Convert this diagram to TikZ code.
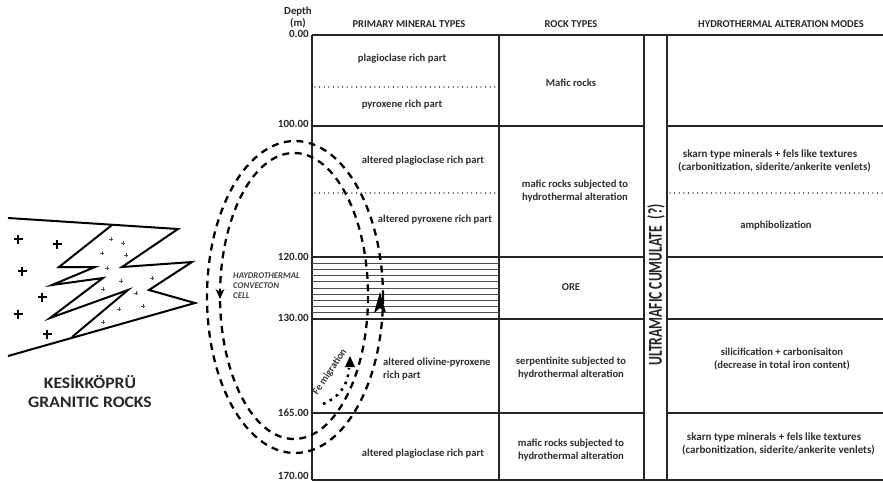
\documentclass[tikz,border=0pt]{standalone}
\usepackage{fontspec}
\setmainfont{Carlito}
\usetikzlibrary{arrows.meta}
\begin{document}
\begin{tikzpicture}[x=1pt,y=-1pt,
  grid/.style={line width=1.3pt, draw=black!85},
  dotline/.style={line width=1.2pt, dash pattern=on 0.01pt off 4.6pt, line cap=round, draw=black!80},
  hatch/.style={line width=0.9pt, draw=black!70},
  lbl/.style={font=\fontsize{10.6}{12.6}\selectfont\bfseries, text=black!82, align=center, inner sep=0pt},
  hdr/.style={font=\fontsize{10.5}{9}\selectfont\bfseries, text=black!85, inner sep=0pt},
  depthlbl/.style={font=\fontsize{11}{9}\selectfont\bfseries, text=black!85, anchor=east, inner sep=0pt},
  flowpath/.style={line width=2.3pt, dash pattern=on 7pt off 5.5pt, draw=black},
  granite/.style={line width=2pt, line join=miter, draw=black},
  bigplus/.style={line width=1.3pt, draw=black},
  smallplus/.style={line width=0.6pt, draw=black!70}]
\useasboundingbox (0,0) rectangle (883,482);

% ---------- column grid ----------
\draw[grid] (312,35) -- (883,35);
\draw[grid] (312,480) -- (883,480);
\draw[grid] (312,35) -- (312,480);
\draw[grid] (499,35) -- (499,480);
\draw[grid] (644,35) -- (644,480);
\draw[grid] (667,35) -- (667,480);
\foreach \yy in {126,257,319,413}{
  \draw[grid] (312,\yy) -- (644,\yy);
  \draw[grid] (667,\yy) -- (883,\yy);
}
% ore hatching
\foreach \k in {1,...,9}{
  \draw[hatch] (312,257+6.2*\k) -- (499,257+6.2*\k);
}
% dotted sub-boundaries
\draw[dotline] (315,87) -- (499,87);
\draw[dotline] (315,193) -- (499,193);
\draw[dotline] (670,193) -- (883,193);

% ---------- headers ----------
\node[hdr, align=center, font=\fontsize{10.8}{12.5}\selectfont\bfseries] (dh) at (298,17.5) {Depth\\(m)};
\node[hdr] (h1) at (409,24) {PRIMARY MINERAL TYPES};
\node[hdr] (h2) at (571,24) {ROCK TYPES};
\node[hdr] (h3) at (781,24) {HYDROTHERMAL ALTERATION MODES};

% ---------- depth scale ----------
\node[depthlbl] (d0)   at (309,34)  {0.00};
\node[depthlbl] (d100) at (309,124) {100.00};
\node[depthlbl] (d120) at (309,257) {120.00};
\node[depthlbl] (d130) at (309,318) {130.00};
\node[depthlbl] (d165) at (309,413) {165.00};
\node[depthlbl] (d170) at (309,475.5) {170.00};

% ---------- primary mineral types ----------
\node[lbl] (p1) at (402,59)  {plagioclase rich part};
\node[lbl] (p2) at (402,105) {pyroxene rich part};
\node[lbl] (p3) at (423,161) {altered plagioclase rich part};
\node[lbl] (p4) at (435,220) {altered pyroxene rich part};
\node[lbl, align=left, anchor=west] (p5) at (383,369) {altered olivine-pyroxene\\rich part};
\node[lbl] (p6) at (423,454) {altered plagioclase rich part};

% ---------- rock types ----------
\node[lbl] (r1) at (571,83)  {Mafic rocks};
\node[lbl] (r2) at (575,191) {mafic rocks subjected to\\hydrothermal alteration};
\node[lbl] (r3) at (571,287) {ORE};
\node[lbl] (r4) at (571,368) {serpentinite subjected to\\hydrothermal alteration};
\node[lbl] (r5) at (571,450) {mafic rocks subjected to\\hydrothermal alteration};

% ---------- cumulate band ----------
\node[font=\fontsize{13.6}{16}\selectfont\bfseries, text=black!85, rotate=90, inner sep=0pt] (um) at (656,285) {\scalebox{1}[1.45]{ULTRAMAFIC CUMULATE\enspace(?)}};

% ---------- alteration modes ----------
\node[lbl, font=\fontsize{11}{12.8}\selectfont\bfseries] (a1) at (770,161) {skarn type minerals + fels like textures\\\hspace*{9pt}(carbonitization, siderite/ankerite venlets)};
\node[lbl] (a2) at (776,226) {amphibolization};
\node[lbl] (a3) at (782,359) {silicification + carbonisaiton\\(decrease in total iron content)};
\node[lbl, font=\fontsize{11}{12.8}\selectfont\bfseries] (a4) at (774,444) {skarn type minerals + fels like textures\\\hspace*{9pt}(carbonitization, siderite/ankerite venlets)};

% ---------- convection cell ----------
\draw[flowpath] (295,297) ellipse [x radius=88, y radius=156];
\draw[flowpath] (294,296) ellipse [x radius=74, y radius=143];
% rising limb arrowhead (outer loop)
\fill (380,292) -- (386,313) -- (380,308) -- (374,313) -- cycle;
% sinking limb arrowhead (inner loop)
\fill (220,299) -- (224.5,289) -- (220,292) -- (215.5,289) -- cycle;
\node[font=\fontsize{8.8}{10}\selectfont\bfseries\itshape, text=black!75, align=left, anchor=west, inner sep=0pt] (cell) at (233,286) {HAYDROTHERMAL\\CONVECTON\\CELL};

% Fe migration path
\draw[line width=2.6pt, dash pattern=on 2.6pt off 5pt, draw=black] (323,404) .. controls (338,398) and (348,386) .. (349,368);
\fill (350,356) -- (355,367) -- (345,367) -- cycle;
\node[font=\fontsize{10.2}{9}\selectfont\bfseries, text=black!80, rotate=56, inner sep=0pt] (fe) at (330,372) {Fe migration};

% ---------- granitic intrusion ----------
\draw[granite] (8,218) -- (178,229) -- (122,267) -- (192,262) -- (149,290) -- (195,303) -- (8,356);
\draw[granite] (112,225) -- (59,267) -- (95,267) -- (52,285) -- (103,278) -- (50,318) -- (128,290) -- (72,337);
\foreach \px/\py in {18/239,57/244,22/271,42/297,18/314,47/334}{
  \draw[bigplus] (\px-4.5,\py) -- (\px+4.5,\py) (\px,\py-4.5) -- (\px,\py+4.5);
}
\foreach \px/\py in {111/239,123/243,102/253,126/255,107/268,121/281,152/278,103/289,136/293,119/309,143/306,103/322}{
  \draw[smallplus] (\px-2,\py) -- (\px+2,\py) (\px,\py-2) -- (\px,\py+2);
}
\node[font=\fontsize{16}{19.5}\selectfont\bfseries, text=black!85, align=center, inner sep=0pt, xscale=1.1] (gr) at (90,391.5) {KES\.{I}KKÖPRÜ\\GRANITIC ROCKS};
\end{tikzpicture}
\end{document}
